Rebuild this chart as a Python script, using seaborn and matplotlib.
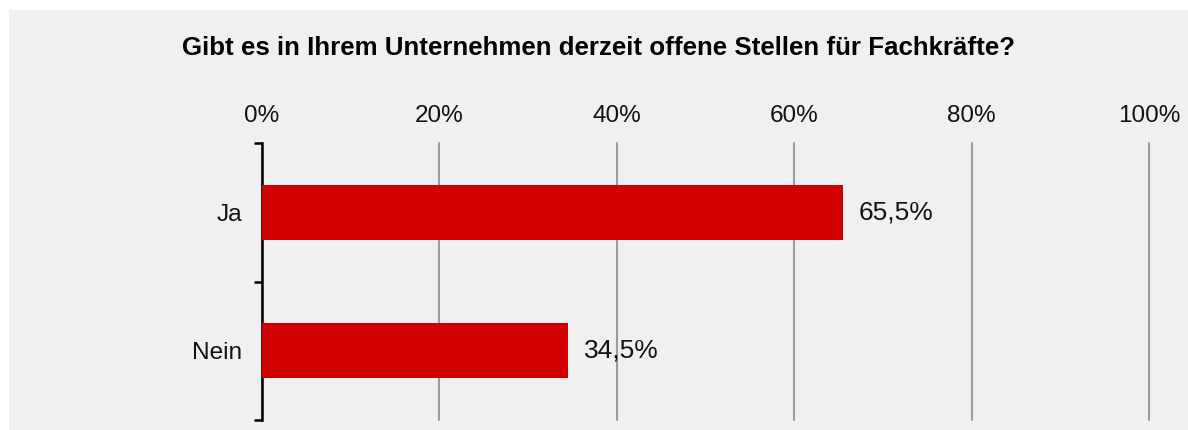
import matplotlib
matplotlib.use("Agg")
import matplotlib.pyplot as plt
from matplotlib.ticker import FixedLocator
import seaborn as sns
import pandas as pd

categories = ["Ja", "Nein"]
values = [65.5, 34.5]
x_ticks = [0, 20, 40, 60, 80, 100]
x_tick_labels = ["0%", "20%", "40%", "60%", "80%", "100%"]
title = "Gibt es in Ihrem Unternehmen derzeit offene Stellen für Fachkräfte?"

sns.set_theme(style="white")
plt.rcParams["font.family"] = ["Liberation Sans", "DejaVu Sans"]

W, H = 1188, 430
fig = plt.figure(figsize=(W / 100, H / 100), dpi=100, facecolor="white")

# light gray panel behind the chart
panel_bg = "#f0f0f0"
bg = fig.add_axes([9 / W, 0, 1 - 9 / W, 1 - 10 / H], zorder=-1)
bg.set_axis_off()
bg.add_patch(plt.Rectangle((0, 0), 1, 1, transform=bg.transAxes,
                           facecolor=panel_bg, edgecolor="none"))

ax = fig.add_axes([262 / W, 10 / H, (1149 - 262) / W, (420 - 143) / H])
ax.set_facecolor(panel_bg)

df = pd.DataFrame({"Antwort": categories, "Anteil": values})
sns.barplot(data=df, x="Anteil", y="Antwort", orient="h", color="#d00000",
            saturation=1, width=0.4, linewidth=0, edgecolor="none",
            ax=ax, zorder=3)

ax.set_xlim(0, 100)
ax.set_ylim(1.5, -0.5)

# percent scale on top with vertical grid lines
ax.xaxis.tick_top()
ax.set_xticks(x_ticks)
ax.set_xticklabels(x_tick_labels, fontsize=17.5, color="#111111")
ax.tick_params(axis="x", length=0, pad=11.5)
ax.grid(axis="x", color="#9c9c9c", linewidth=1.5, zorder=1)
ax.set_axisbelow(True)
for gl in ax.get_xgridlines():
    gl.set_clip_on(False)

# category labels centred on bars, ticks at category boundaries
ax.yaxis.set_major_locator(FixedLocator([-0.5, 0.5, 1.5]))
ax.yaxis.set_minor_locator(FixedLocator([0, 1]))
ax.set_yticklabels([], minor=False)
ax.set_yticklabels(categories, minor=True, fontsize=17.6, color="#111111")
ax.tick_params(axis="y", which="major", length=6, width=1.8, color="black",
               left=True)
ax.tick_params(axis="y", which="minor", length=0, pad=14)

ax.set_xlabel("")
ax.set_ylabel("")
for side in ["top", "right", "bottom"]:
    ax.spines[side].set_visible(False)
ax.spines["left"].set_color("black")
ax.spines["left"].set_linewidth(1.8)

for i, v in enumerate(values):
    ax.text(v + 1.8, i, f"{v:.1f}%".replace(".", ","), va="center",
            ha="left", fontsize=19, color="#111111", zorder=4)

fig.text(0.5 + 4.5 / W, 1 - 48 / H, title, ha="center", va="center",
         fontsize=18.6, fontweight="bold", color="black")

fig.savefig("out.png", dpi=100, facecolor="white")
